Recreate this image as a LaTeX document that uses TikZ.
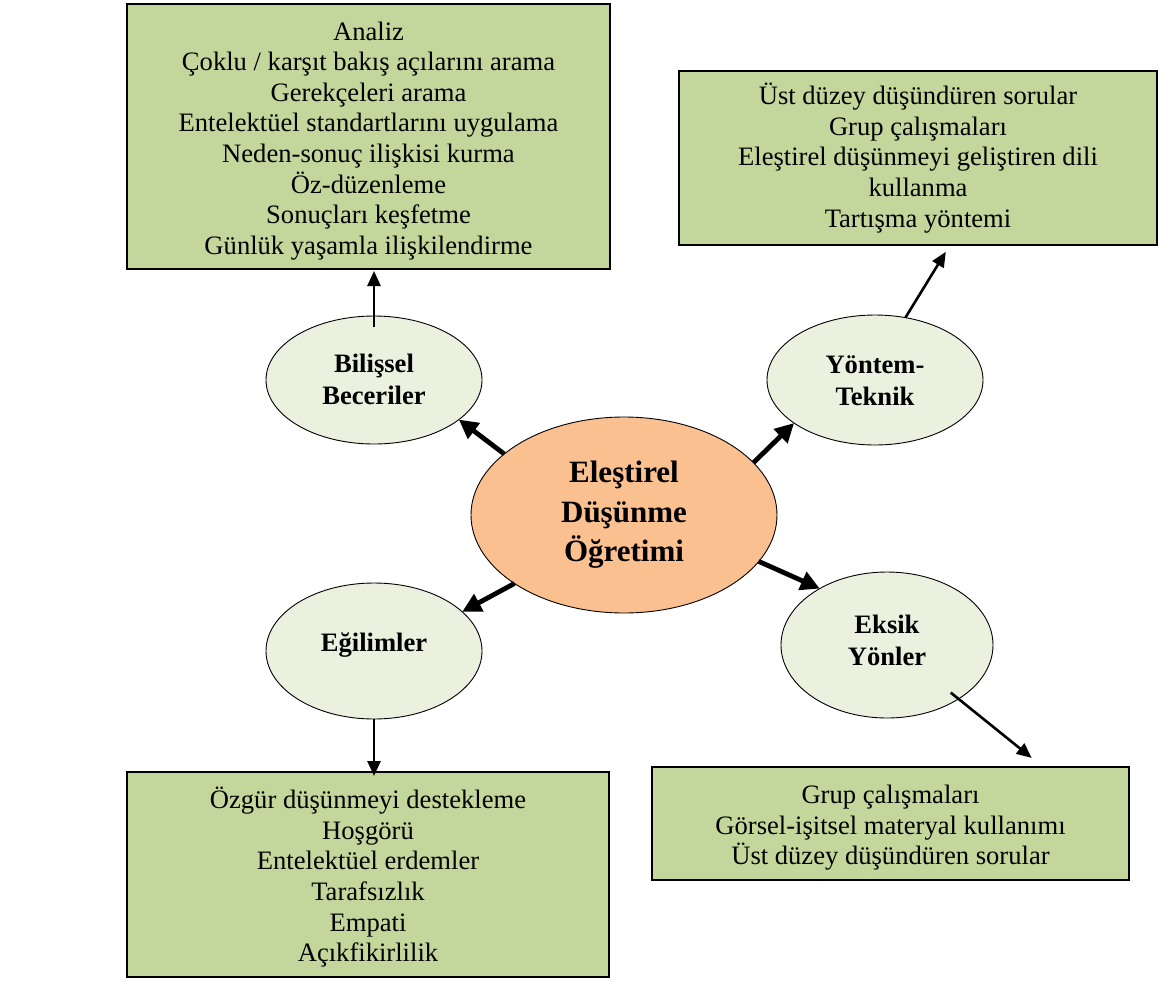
\documentclass[tikz,border=0pt]{standalone}
\usepackage{fontspec}
\setmainfont{Liberation Serif}
\usetikzlibrary{shapes.geometric,arrows.meta}
\definecolor{boxgreen}{HTML}{C3D69B}
\definecolor{bubblegreen}{HTML}{EBF1DE}
\definecolor{hubpeach}{HTML}{FAC090}
% strut that lowers the text block inside a list box
\newcommand{\toppad}{\rule{0pt}{27pt}}
\begin{document}
\begin{tikzpicture}[x=1pt,y=-1pt,
  listbox/.style={draw=black,line width=2pt,fill=boxgreen,inner sep=0pt,outer sep=0pt,
    align=center,font=\fontsize{26.6}{30.6}\selectfont},
  sidebubble/.style={ellipse,draw=black,line width=0.9pt,fill=bubblegreen,inner sep=0pt,outer sep=0pt},
  bubbletext/.style={align=center,inner sep=0pt,font=\bfseries\fontsize{26.6}{32}\selectfont},
  hub/.style={ellipse,draw=black,line width=0.9pt,fill=hubpeach,inner sep=0pt,outer sep=0pt,
    minimum width=306pt,minimum height=196pt,align=center,font=\bfseries\fontsize{31}{39.5}\selectfont},
  bigarrow/.style={line width=4.8pt,-{Triangle[length=19pt,width=19pt]}},
  smallarrow/.style={line width=2.6pt,-{Triangle[length=15pt,width=13pt]}}]

\useasboundingbox (0,0) rectangle (1168,986);

% list boxes
\node[listbox,minimum width=483pt,minimum height=265pt] (bx1) at (368.5,136.5)
  {\toppad Analiz\\Çoklu / karşıt bakış açılarını arama\\Gerekçeleri arama\\Entelektüel standartlarını uygulama\\Neden-sonuç ilişkisi kurma\\Öz-düzenleme\\Sonuçları keşfetme\\Günlük yaşamla ilişkilendirme};
\node[listbox,minimum width=478pt,minimum height=174pt] (bx2) at (918,158)
  {Üst düzey düşündüren sorular\\Grup çalışmaları\\Eleştirel düşünmeyi geliştiren dili\\kullanma\\Tartışma yöntemi};
\node[listbox,minimum width=482pt,minimum height=205pt] (bx3) at (368,874.5)
  {\toppad Özgür düşünmeyi destekleme\\Hoşgörü\\Entelektüel erdemler\\Tarafsızlık\\Empati\\Açıkfikirlilik};
\node[listbox,minimum width=477pt,minimum height=113pt] (bx4) at (890.5,823.5)
  {\toppad Grup çalışmaları\\Görsel-işitsel materyal kullanımı\\Üst düzey düşündüren sorular};

% central topic
\node[hub] (hub) at (624,515) {Eleştirel\\Düşünme\\Öğretimi};

% side bubbles
\node[sidebubble,minimum width=216pt,minimum height=128pt] (bub1) at (374,380) {};
\node[bubbletext] (bt1) at (374,379) {Bilişsel\\Beceriler};
\node[sidebubble,minimum width=216pt,minimum height=130pt] (bub2) at (875,380) {};
\node[bubbletext] (bt2) at (875,380.5) {Yöntem-\\Teknik};
\node[sidebubble,minimum width=216pt,minimum height=136pt] (bub3) at (374,651) {};
\node[bubbletext] (bt3) at (374,645) {Eğilimler};
\node[sidebubble,minimum width=212pt,minimum height=146pt] (bub4) at (887,645) {};
\node[bubbletext] (bt4) at (887,640.5) {Eksik\\Yönler};

% hub to bubbles
\draw[bigarrow] (hub.153) -- (bub1.-25);
\draw[bigarrow] (hub.22) -- (bub2.-152);
\draw[bigarrow] (hub.212) -- (bub3.24);
\draw[bigarrow] (hub.-19) -- (bub4.140);

% bubbles to lists
\draw[smallarrow,shorten <=-11pt,shorten >=2pt] (bub1.north) -- (bub1.north |- bx1.south);
\draw[smallarrow,shorten >=8pt] (bub2.64) -- ([xshift=32pt]bx2.south);
\draw[smallarrow,shorten >=-4pt] (bub3.south) -- (bub3.south |- bx3.north);
\draw[smallarrow,shorten <=-10pt,shorten >=14.5pt] (bub4.-37) -- ([xshift=152.5pt]bx4.north);
\end{tikzpicture}
\end{document}
